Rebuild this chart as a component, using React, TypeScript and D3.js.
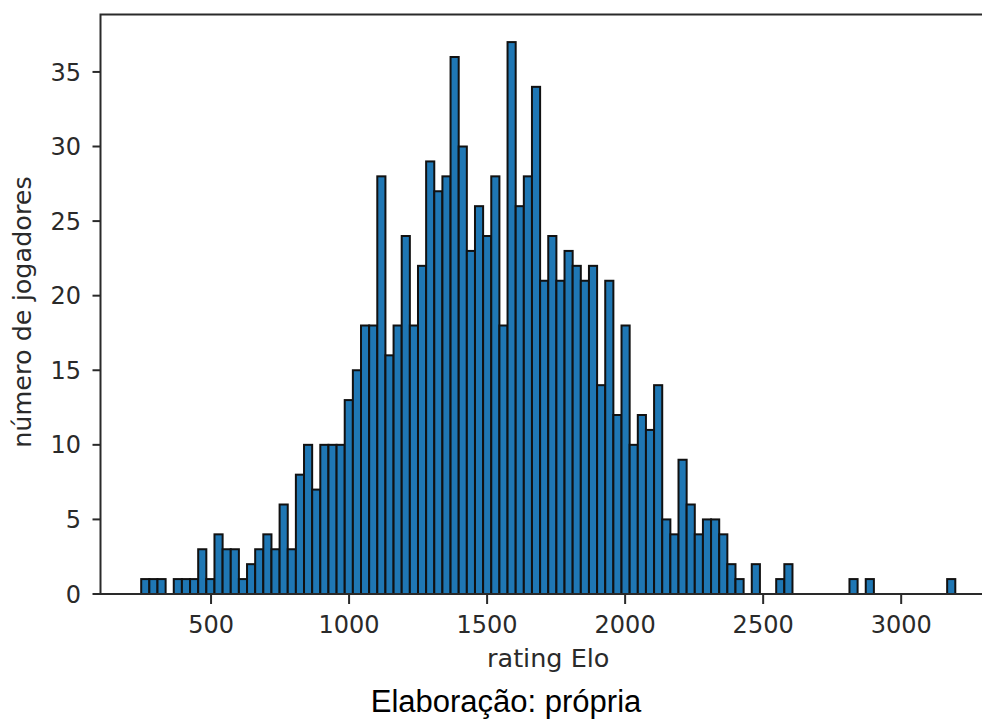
import React from 'react';
import * as d3 from 'd3';

// Histogram counts (100 equal-width bins between ratingMin and ratingMax)
const counts: number[] = [
  1, 1, 1, 0, 1, 1, 1, 3, 1, 4,
  3, 3, 1, 2, 3, 4, 3, 6, 3, 8,
  10, 7, 10, 10, 10, 13, 15, 18, 18, 28,
  16, 18, 24, 18, 22, 29, 27, 28, 36, 30,
  23, 26, 24, 28, 18, 37, 26, 28, 34, 21,
  24, 21, 23, 22, 21, 22, 14, 21, 12, 18,
  10, 12, 11, 14, 5, 4, 9, 6, 4, 5,
  5, 4, 2, 1, 0, 2, 0, 0, 1, 2,
  0, 0, 0, 0, 0, 0, 0, 1, 0, 1,
  0, 0, 0, 0, 0, 0, 0, 0, 0, 1,
];
const ratingMin = 247;
const ratingMax = 3196;
const xTicks: number[] = [500, 1000, 1500, 2000, 2500, 3000];
const yTicks: number[] = [0, 5, 10, 15, 20, 25, 30, 35];
const xLabel = 'rating Elo';
const yLabel = 'número de jogadores';
const caption = 'Elaboração: própria';

export default function App() {
  const W = 982;
  const H = 720;
  const left = 100.5, right = 996, top = 14.5, bottom = 594;
  const nBins = counts.length;
  const binW = (ratingMax - ratingMin) / nBins;
  const bins = counts.map((c, i) => ({ x0: ratingMin + i * binW, x1: ratingMin + (i + 1) * binW, c }));
  const pad = (ratingMax - ratingMin) * 0.05;
  const x = d3.scaleLinear().domain([ratingMin - pad, ratingMax + pad]).range([left, right]);
  const yMax = (d3.max(counts) as number) * 1.05;
  const y = d3.scaleLinear().domain([0, yMax]).range([bottom, top]);
  const font = 'DejaVu Sans, sans-serif';
  const ink = '#2a2a2a';

  return (
    <svg width={W} height={H} style={{ position: 'absolute', left: 0, top: 0, background: '#fff' }}>
      <rect x={0} y={0} width={W} height={H} fill="#fff" />
      <g>
        {bins.filter(b => b.c > 0).map((b, i) => (
          <rect
            key={i}
            x={x(b.x0)}
            y={y(b.c)}
            width={x(b.x1) - x(b.x0)}
            height={y(0) - y(b.c)}
            fill="#1f77b4"
            stroke="#111"
            strokeWidth={2}
          />
        ))}
      </g>
      {/* spines */}
      <rect x={left} y={top} width={right - left} height={bottom - top} fill="none" stroke={ink} strokeWidth={2} />
      {/* y ticks */}
      {yTicks.map(t => (
        <g key={'y' + t}>
          <line x1={left - 8} x2={left} y1={y(t)} y2={y(t)} stroke={ink} strokeWidth={2} />
          <text x={81} y={y(t)} dy="0.36em" textAnchor="end" fontFamily={font} fontSize={24} fill={ink}>{t}</text>
        </g>
      ))}
      {/* x ticks */}
      {xTicks.map(t => (
        <g key={'x' + t}>
          <line x1={x(t)} x2={x(t)} y1={bottom} y2={bottom + 10} stroke={ink} strokeWidth={2} />
          <text x={x(t)} y={633} textAnchor="middle" fontFamily={font} fontSize={24} fill={ink}>{t}</text>
        </g>
      ))}
      <text x={(left + right) / 2} y={667} textAnchor="middle" fontFamily={font} fontSize={25.5} fill={ink}>{xLabel}</text>
      <text
        transform={`translate(31, ${312}) rotate(-90)`}
        textAnchor="middle"
        fontFamily={font}
        fontSize={25.5}
        fill={ink}
      >{yLabel}</text>
      <text x={506} y={712} textAnchor="middle" fontFamily="Liberation Sans, Arial, sans-serif" fontSize={31} fill="#000">{caption}</text>
    </svg>
  );
}
